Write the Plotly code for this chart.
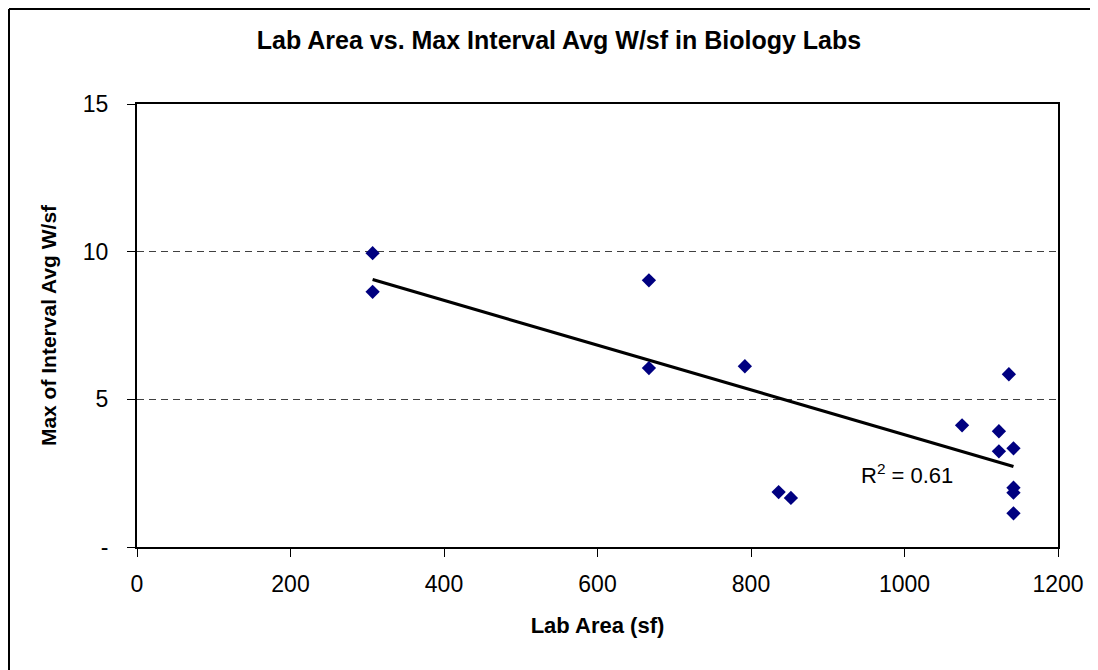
import numpy as np
import plotly.graph_objects as go

# Data
lab_area = [307, 307, 667, 667, 792, 836, 852, 1075, 1123, 1123, 1142, 1136, 1142, 1142, 1142]
max_wsf = [9.95, 8.64, 9.03, 6.06, 6.12, 1.86, 1.66, 4.12, 3.92, 3.24, 3.34, 5.85, 2.01, 1.84, 1.14]

x_ticks = [0, 200, 400, 600, 800, 1000, 1200]
y_ticks = [0, 5, 10, 15]
y_ticktext = ["-", "5", "10", "15"]

# page places the figure 8px from the window's top-left corner
OFF = 8
W, H = 1098 - OFF, 670 - OFF
L, T = 137 - OFF, 104 - OFF
R = W - (1058 - OFF)
B = H - (547.5 - OFF)
pw, ph = W - L - R, H - T - B

def px_x(p):  # screen pixel -> paper
    return (p - OFF - L) / pw

def px_y(p):
    return 1 - (p - OFF - T) / ph

FONT = "Liberation Sans, Arial, sans-serif"

x = np.array(lab_area, dtype=float)
y = np.array(max_wsf, dtype=float)
slope, intercept = np.polyfit(x, y, 1)
xfit = np.array([x.min(), x.max()])
yfit = slope * xfit + intercept
r2 = np.corrcoef(x, y)[0, 1] ** 2

fig = go.Figure()
fig.add_trace(go.Scatter(x=xfit, y=yfit, mode="lines",
                         line=dict(color="black", width=3.2), showlegend=False,
                         hoverinfo="skip"))
fig.add_trace(go.Scatter(x=lab_area, y=max_wsf, mode="markers",
                         marker=dict(symbol="diamond", size=11, color="#000080",
                                     line=dict(width=0)),
                         showlegend=False))

fig.update_layout(
    width=W, height=H,
    margin=dict(l=L, r=R, t=T, b=B),
    paper_bgcolor="white", plot_bgcolor="white",
    font=dict(family=FONT, color="black"),
    title=dict(text="<b>Lab Area vs. Max Interval Avg W/sf in Biology Labs</b>",
               x=(559 - OFF) / W, xanchor="center", y=1 - (40 - OFF) / H, yanchor="middle",
               font=dict(size=25, family=FONT, color="black")),
    xaxis=dict(range=[0, 1200], tickvals=x_ticks, showgrid=False, zeroline=False,
               showline=True, linecolor="black", linewidth=2, mirror=True,
               ticks="outside", ticklen=8, tickcolor="black", tickwidth=1,
               tickfont=dict(size=23, family=FONT), ticklabelstandoff=7,
               title=dict(text="<b>Lab Area (sf)</b>", font=dict(size=22, family=FONT),
                          standoff=22)),
    yaxis=dict(range=[0, 15], tickvals=y_ticks, ticktext=y_ticktext,
               showgrid=True, gridcolor="#404040", griddash="7px,5px", gridwidth=1,
               zeroline=False,
               showline=True, linecolor="black", linewidth=2, mirror=True,
               ticks="outside", ticklen=8, tickcolor="black", tickwidth=1,
               tickfont=dict(size=23, family=FONT), ticklabelstandoff=14,
               title=dict(text="<b>Max of Interval Avg W/sf</b>", font=dict(size=21, family=FONT),
                          standoff=20)),
)

fig.add_annotation(x=px_x(907), y=px_y(474), xref="paper", yref="paper",
                   text="R<sup>2</sup> = %.2f" % r2, showarrow=False,
                   font=dict(size=22, family=FONT, color="black"),
                   xanchor="center", yanchor="middle")

# outer chart border (left and top edges visible)
fig.add_shape(type="line", xref="paper", yref="paper",
              x0=px_x(OFF + 1), x1=px_x(1098 + 20), y0=px_y(OFF + 1), y1=px_y(OFF + 1),
              line=dict(color="black", width=2))
fig.add_shape(type="line", xref="paper", yref="paper",
              x0=px_x(OFF + 1), x1=px_x(OFF + 1), y0=px_y(OFF + 1), y1=px_y(670 + 20),
              line=dict(color="black", width=2))

fig.write_html("out.html")
